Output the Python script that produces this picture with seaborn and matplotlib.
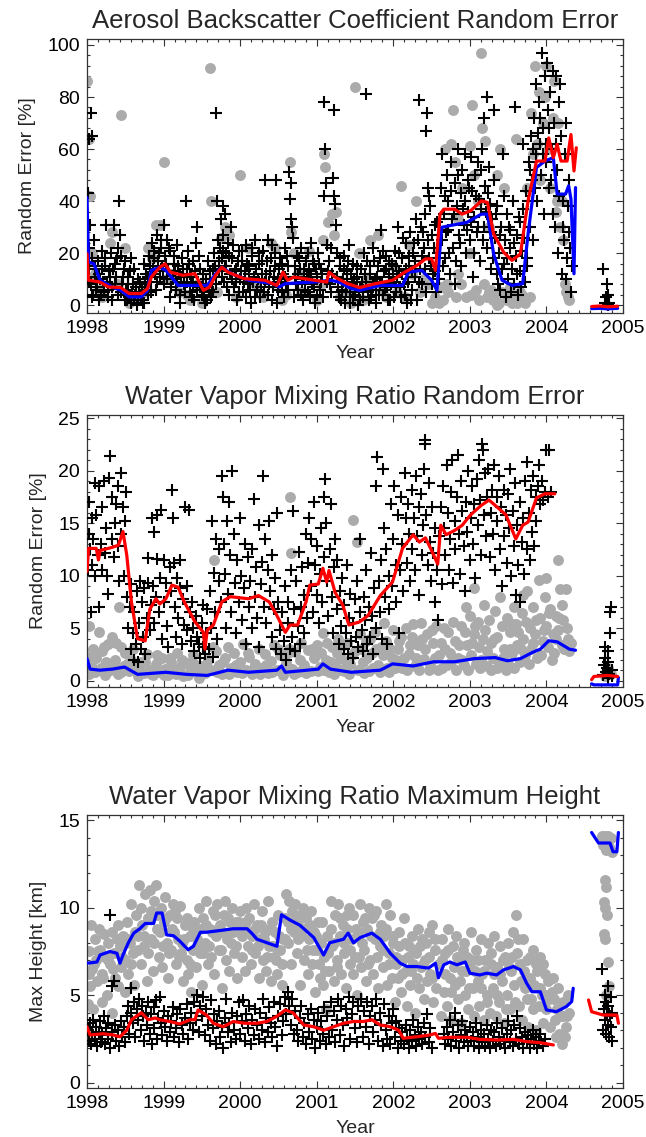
import numpy as np
import matplotlib
matplotlib.use("Agg")
import matplotlib.pyplot as plt
import seaborn as sns
from matplotlib.ticker import MultipleLocator, AutoMinorLocator

# ---------------- data ----------------
years = [1998, 1999, 2000, 2001, 2002, 2003, 2004, 2005]

# Panel 1: aerosol backscatter coefficient random error [%]
aer_red_x = [1998.00, 1998.02, 1998.17, 1998.28, 1998.44, 1998.55, 1998.71, 1998.79, 1998.84, 1998.95,
             1999.02, 1999.09, 1999.25, 1999.41, 1999.52, 1999.60, 1999.68, 1999.76, 1999.84, 2000.05,
             2000.32, 2000.48, 2000.56, 2000.62, 2000.70, 2000.97, 2001.13, 2001.16, 2001.24, 2001.40,
             2001.56, 2001.77, 2001.99, 2002.15, 2002.31, 2002.42, 2002.50, 2002.55, 2002.61, 2002.66,
             2002.80, 2002.90, 2003.01, 2003.15, 2003.23, 2003.31, 2003.44, 2003.55, 2003.66, 2003.76,
             2003.87, 2003.98, 2004.03, 2004.09, 2004.14, 2004.19, 2004.27, 2004.32, 2004.36, 2004.39]
aer_red_y = [19.7, 9.6, 8.9, 7.0, 6.8, 4.5, 4.5, 6.4, 10.8, 14.6,
             15.9, 12.7, 11.5, 12.1, 5.7, 7.0, 11.5, 14.6, 12.7, 10.2,
             9.6, 7.6, 12.7, 9.6, 10.8, 9.6, 8.9, 12.7, 10.8, 8.3,
             6.8, 8.3, 9.6, 12.7, 15.3, 17.8, 17.8, 13.4, 35.0, 36.9,
             36.9, 35.0, 36.3, 40.1, 39.5, 27.4, 20.4, 17.2, 19.7, 40.1,
             55.4, 55.4, 64.3, 56.7, 61.8, 55.4, 55.4, 65.6, 51.6, 60.5]
aer_blue_x = [1998.00, 1998.02, 1998.09, 1998.17, 1998.33, 1998.44, 1998.55, 1998.71, 1998.79, 1998.84,
              1998.95, 1999.03, 1999.19, 1999.41, 1999.57, 1999.68, 1999.76, 1999.89, 2000.11, 2000.43,
              2000.51, 2000.59, 2000.97, 2001.18, 2001.29, 2001.45, 2001.56, 2001.83, 2002.12, 2002.20,
              2002.37, 2002.50, 2002.57, 2002.63, 2002.74, 2002.96, 2003.15, 2003.23, 2003.31, 2003.42,
              2003.55, 2003.69, 2003.76, 2003.87, 2003.98, 2004.09, 2004.14, 2004.25, 2004.29, 2004.32,
              2004.36, 2004.38]
aer_blue_y = [41.4, 16.6, 15.9, 9.6, 7.0, 5.7, 3.2, 3.2, 5.7, 13.4,
              14.6, 13.4, 7.6, 7.6, 7.6, 12.1, 14.6, 12.1, 9.6, 8.3,
              7.0, 8.3, 8.9, 9.6, 8.9, 6.4, 5.7, 7.6, 7.6, 12.7,
              13.4, 9.6, 5.7, 29.9, 30.6, 31.8, 35.0, 35.0, 19.7, 9.6,
              7.6, 8.3, 27.4, 52.9, 55.4, 56.7, 42.7, 42.7, 45.9, 40.8,
              12.1, 45.2]
aer_red_tail_x = [2004.59, 2004.70, 2004.80, 2004.93]
aer_red_tail_y = [-0.5, -0.3, -0.6, -0.4]
aer_blue_tail_x = [2004.59, 2004.70, 2004.80, 2004.93]
aer_blue_tail_y = [-1.3, -1.2, -1.4, -1.2]

aer_cross = [
    (1998.01, 43), (1998.03, 64), (1998.05, 74), (1998.06, 65), (1998.04, 31), (1998.02, 22), (1998.03, 14),
    (1998.05, 8), (1998.07, 18), (1998.08, 4), (1998.10, 11), (1998.09, 25), (1998.12, 6), (1998.14, 17),
    (1998.15, 2), (1998.17, 10), (1998.19, 21), (1998.20, 14), (1998.22, 5), (1998.24, 18), (1998.25, 31),
    (1998.26, 9), (1998.28, 3), (1998.29, 13), (1998.31, 20), (1998.33, 7), (1998.35, 31), (1998.36, 16),
    (1998.38, 11), (1998.40, 4), (1998.41, 22), (1998.42, 40), (1998.43, 27), (1998.44, 19), (1998.46, 8),
    (1998.48, 14), (1998.49, 2), (1998.51, 6), (1998.53, 11), (1998.55, 3), (1998.57, 18), (1998.58, 1),
    (1998.60, 8), (1998.62, 14), (1998.63, 4), (1998.65, 0), (1998.67, 10), (1998.68, 5), (1998.70, 2),
    (1998.72, 7), (1998.74, 16), (1998.75, 1), (1998.77, 12), (1998.79, 4), (1998.81, 19), (1998.83, 9),
    (1998.85, 24), (1998.86, 14), (1998.88, 21), (1998.90, 6), (1998.91, 27), (1998.93, 17), (1998.95, 11),
    (1998.96, 22), (1998.98, 15), (1999.00, 31), (1999.01, 8), (1999.02, 19), (1999.04, 25), (1999.06, 13),
    (1999.08, 3), (1999.09, 21), (1999.12, 10), (1999.14, 16), (1999.16, 6), (1999.18, 23), (1999.20, 12),
    (1999.22, 1), (1999.24, 18), (1999.27, 8), (1999.29, 40), (1999.30, 14), (1999.32, 21), (1999.34, 5),
    (1999.36, 11), (1999.38, 17), (1999.40, 2), (1999.42, 24), (1999.44, 30), (1999.45, 9), (1999.47, 14),
    (1999.50, 4), (1999.52, 12), (1999.54, 1), (1999.56, 7), (1999.58, 17), (1999.60, 10), (1999.62, 3),
    (1999.64, 14), (1999.66, 20), (1999.68, 8), (1999.69, 74), (1999.70, 40), (1999.71, 25), (1999.72, 13),
    (1999.74, 22), (1999.75, 33), (1999.76, 18), (1999.77, 38), (1999.78, 27), (1999.79, 9), (1999.80, 35),
    (1999.81, 20), (1999.82, 15), (1999.84, 24), (1999.85, 4), (1999.87, 12), (1999.88, 30), (1999.90, 18),
    (1999.92, 7), (1999.94, 14), (1999.96, 2), (1999.98, 21), (2000.00, 10), (2000.02, 17), (2000.04, 5),
    (2000.06, 13), (2000.08, 23), (2000.10, 8), (2000.12, 15), (2000.14, 1), (2000.16, 19), (2000.18, 11),
    (2000.20, 25), (2000.22, 6), (2000.24, 16), (2000.26, 3), (2000.28, 12), (2000.30, 21), (2000.32, 48),
    (2000.33, 9), (2000.35, 17), (2000.37, 4), (2000.39, 13), (2000.41, 23), (2000.43, 7), (2000.45, 15),
    (2000.47, 48), (2000.48, 1), (2000.50, 10), (2000.52, 18), (2000.54, 5), (2000.56, 12), (2000.58, 22),
    (2000.60, 8), (2000.62, 15), (2000.64, 51), (2000.65, 41), (2000.66, 47), (2000.67, 33), (2000.68, 30),
    (2000.69, 26), (2000.70, 3), (2000.72, 11), (2000.74, 19), (2000.76, 6), (2000.78, 14), (2000.80, 22),
    (2000.82, 2), (2000.84, 10), (2000.86, 17), (2000.88, 5), (2000.90, 13), (2000.92, 24), (2000.94, 8),
    (2000.96, 16), (2000.98, 1), (2001.00, 11), (2001.02, 20), (2001.04, 6), (2001.06, 14), (2001.08, 3),
    (2001.09, 42), (2001.10, 78), (2001.11, 60), (2001.12, 47), (2001.13, 23), (2001.14, 9), (2001.16, 17),
    (2001.18, 5), (2001.20, 12), (2001.21, 49), (2001.22, 42), (2001.23, 75), (2001.24, 39), (2001.25, 31),
    (2001.26, 20), (2001.28, 7), (2001.30, 15), (2001.32, 2), (2001.34, 10), (2001.36, 19), (2001.38, 5),
    (2001.40, 13), (2001.42, 23), (2001.44, 1), (2001.46, 8), (2001.48, 16), (2001.50, 4), (2001.52, 11),
    (2001.54, 0), (2001.56, 7), (2001.58, 14), (2001.60, 3), (2001.62, 20), (2001.64, 81), (2001.65, 9),
    (2001.66, 17), (2001.68, 2), (2001.70, 12), (2001.72, 6), (2001.74, 22), (2001.76, 10), (2001.78, 1),
    (2001.80, 15), (2001.82, 8), (2001.84, 29), (2001.86, 4), (2001.88, 13), (2001.90, 19), (2001.92, 7),
    (2001.94, 11), (2001.96, 2), (2001.98, 16), (2002.00, 9), (2002.02, 21), (2002.04, 5), (2002.06, 30),
    (2002.08, 13), (2002.10, 3), (2002.12, 18), (2002.14, 8), (2002.16, 24), (2002.18, 1), (2002.20, 15),
    (2002.22, 28), (2002.24, 6), (2002.26, 20), (2002.28, 11), (2002.30, 33), (2002.31, 2), (2002.32, 25),
    (2002.34, 79), (2002.35, 14), (2002.36, 30), (2002.38, 8), (2002.40, 22), (2002.42, 35), (2002.43, 67),
    (2002.44, 74), (2002.45, 45), (2002.46, 18), (2002.47, 42), (2002.48, 38), (2002.50, 27), (2002.52, 12),
    (2002.54, 31), (2002.56, 5), (2002.58, 20), (2002.60, 10), (2002.62, 45), (2002.63, 25), (2002.64, 58),
    (2002.66, 35), (2002.68, 18), (2002.70, 50), (2002.71, 29), (2002.72, 40), (2002.74, 12), (2002.75, 55),
    (2002.77, 33), (2002.78, 22), (2002.80, 47), (2002.81, 8), (2002.83, 38), (2002.84, 60), (2002.86, 27),
    (2002.88, 43), (2002.89, 15), (2002.90, 52), (2002.92, 31), (2002.94, 40), (2002.95, 20), (2002.97, 48),
    (2002.98, 36), (2003.00, 25), (2003.01, 57), (2003.03, 44), (2003.04, 11), (2003.06, 34), (2003.07, 50),
    (2003.09, 28), (2003.10, 55), (2003.12, 41), (2003.13, 17), (2003.15, 37), (2003.16, 60), (2003.18, 72),
    (2003.19, 30), (2003.20, 46), (2003.22, 80), (2003.23, 22), (2003.25, 53), (2003.26, 39), (2003.28, 14),
    (2003.29, 33), (2003.31, 48), (2003.32, 75), (2003.33, 26), (2003.35, 12), (2003.36, 38), (2003.38, 20),
    (2003.40, 6), (2003.41, 30), (2003.43, 58), (2003.44, 16), (2003.46, 25), (2003.47, 3), (2003.49, 35),
    (2003.50, 10), (2003.52, 22), (2003.53, 29), (2003.55, 14), (2003.56, 40), (2003.58, 8), (2003.59, 76),
    (2003.60, 19), (2003.62, 27), (2003.63, 4), (2003.65, 32), (2003.66, 13), (2003.68, 21), (2003.69, 62),
    (2003.70, 37), (2003.72, 9), (2003.73, 44), (2003.75, 18), (2003.77, 55), (2003.78, 30), (2003.80, 65),
    (2003.81, 48), (2003.83, 25), (2003.84, 72), (2003.86, 58), (2003.87, 85), (2003.88, 40), (2003.90, 78),
    (2003.91, 62), (2003.93, 50), (2003.94, 97), (2003.95, 68), (2003.97, 35), (2003.98, 88), (2004.00, 55),
    (2004.01, 93), (2004.02, 75), (2004.04, 45), (2004.05, 82), (2004.07, 60), (2004.08, 90), (2004.10, 70),
    (2004.11, 30), (2004.13, 88), (2004.14, 52), (2004.15, 20), (2004.16, 78), (2004.18, 85), (2004.19, 65),
    (2004.20, 12), (2004.21, 40), (2004.23, 25), (2004.24, 58), (2004.26, 10), (2004.27, 18), (2004.29, 48),
    (2004.30, 28), (2004.32, 5), (2004.33, 15),
    (2004.74, 14), (2004.76, 1), (2004.78, 3), (2004.79, 8), (2004.80, 0), (2004.81, 4), (2004.82, 1),
]
aer_cross_dense = [
    (1998.03, 9), (1998.07, 3), (1998.11, 15), (1998.13, 7), (1998.16, 12), (1998.18, 4), (1998.21, 9),
    (1998.23, 15), (1998.27, 6), (1998.30, 11), (1998.32, 2), (1998.34, 14), (1998.37, 8), (1998.39, 18),
    (1998.45, 5), (1998.47, 11), (1998.50, 17), (1998.52, 2), (1998.54, 8), (1998.56, 13), (1998.59, 5),
    (1998.61, 3), (1998.64, 7), (1998.66, 2), (1998.69, 9), (1998.71, 4), (1998.73, 1), (1998.76, 8),
    (1998.78, 6), (1998.80, 11), (1998.82, 15), (1998.84, 5), (1998.87, 18), (1998.89, 12), (1998.92, 9),
    (1998.94, 20), (1998.97, 25), (1998.99, 13), (1999.03, 16), (1999.05, 10), (1999.07, 22), (1999.10, 7),
    (1999.13, 19), (1999.15, 13), (1999.17, 9), (1999.19, 15), (1999.21, 4), (1999.23, 11), (1999.26, 14),
    (1999.28, 5), (1999.31, 9), (1999.33, 16), (1999.35, 12), (1999.37, 3), (1999.39, 8), (1999.41, 13),
    (1999.43, 6), (1999.46, 19), (1999.48, 7), (1999.51, 8), (1999.53, 3), (1999.55, 10), (1999.57, 2),
    (1999.59, 6), (1999.61, 13), (1999.63, 8), (1999.65, 5), (1999.67, 15), (1999.73, 17), (1999.76, 11),
    (1999.78, 21), (1999.80, 15), (1999.83, 7), (1999.86, 19), (1999.89, 10), (1999.91, 23), (1999.93, 13),
    (1999.95, 9), (1999.97, 17), (1999.99, 5), (2000.01, 13), (2000.03, 21), (2000.05, 9), (2000.07, 3),
    (2000.09, 16), (2000.11, 12), (2000.13, 6), (2000.15, 22), (2000.17, 9), (2000.19, 3), (2000.21, 14),
    (2000.23, 10), (2000.25, 20), (2000.27, 7), (2000.29, 17), (2000.31, 5), (2000.34, 12), (2000.36, 25),
    (2000.38, 8), (2000.40, 18), (2000.42, 2), (2000.44, 11), (2000.46, 20), (2000.49, 6), (2000.51, 14),
    (2000.53, 9), (2000.55, 16), (2000.57, 3), (2000.59, 11), (2000.61, 19), (2000.63, 6), (2000.71, 15),
    (2000.73, 8), (2000.75, 12), (2000.77, 18), (2000.79, 4), (2000.81, 9), (2000.83, 14), (2000.85, 6),
    (2000.87, 11), (2000.89, 20), (2000.91, 3), (2000.93, 12), (2000.95, 17), (2000.97, 7), (2000.99, 14),
    (2001.01, 4), (2001.03, 16), (2001.05, 9), (2001.07, 12), (2001.15, 13), (2001.17, 8), (2001.19, 22),
    (2001.27, 11), (2001.29, 3), (2001.31, 18), (2001.33, 6), (2001.35, 14), (2001.37, 1), (2001.39, 9),
    (2001.41, 17), (2001.43, 5), (2001.45, 12), (2001.47, 3), (2001.49, 10), (2001.51, 7), (2001.53, 15),
    (2001.55, 5), (2001.57, 2), (2001.59, 9), (2001.61, 6), (2001.63, 12), (2001.67, 5), (2001.69, 15),
    (2001.71, 3), (2001.73, 9), (2001.75, 17), (2001.77, 6), (2001.79, 11), (2001.81, 4), (2001.83, 18),
    (2001.85, 9), (2001.87, 21), (2001.89, 6), (2001.91, 14), (2001.93, 2), (2001.95, 17), (2001.97, 8),
    (2001.99, 12), (2002.01, 3), (2002.03, 15), (2002.05, 11), (2002.07, 20), (2002.09, 7), (2002.11, 12),
    (2002.13, 26), (2002.15, 4), (2002.17, 14), (2002.19, 9), (2002.21, 19), (2002.23, 2), (2002.25, 13),
    (2002.27, 24), (2002.29, 17), (2002.33, 9), (2002.37, 19), (2002.39, 28), (2002.41, 14), (2002.43, 5),
    (2002.45, 25), (2002.49, 15), (2002.51, 8), (2002.53, 22), (2002.55, 13), (2002.57, 32),
    (2002.61, 33), (2002.65, 15), (2002.67, 42), (2002.69, 28), (2002.73, 20), (2002.76, 44), (2002.79, 35),
    (2002.82, 17), (2002.85, 50), (2002.87, 24), (2002.91, 37), (2002.93, 58), (2002.96, 29), (2002.99, 45),
    (2003.02, 32), (2003.05, 20), (2003.08, 42), (2003.11, 30), (2003.14, 52), (2003.17, 25), (2003.21, 36),
    (2003.24, 43), (2003.27, 28), (2003.30, 18), (2003.34, 35), (2003.37, 8), (2003.39, 27), (2003.42, 14),
    (2003.45, 42), (2003.48, 18), (2003.51, 30), (2003.54, 5), (2003.57, 24), (2003.61, 12), (2003.64, 34),
    (2003.67, 7), (2003.71, 26), (2003.74, 15), (2003.76, 40), (2003.79, 52), (2003.82, 60), (2003.85, 45),
    (2003.89, 66), (2003.92, 72), (2003.96, 58), (2003.99, 62), (2004.03, 68), (2004.06, 48), (2004.09, 35),
    (2004.12, 62), (2004.17, 42), (2004.22, 30), (2004.25, 70), (2004.28, 38), (2004.31, 22),
]
aer_dot = [
    (1998.00, 86), (1998.02, 64), (1998.04, 42), (1998.06, 20), (1998.10, 12), (1998.20, 3), (1998.30, 24),
    (1998.33, 28), (1998.45, 73), (1998.50, 22), (1998.55, 1), (1998.65, 2), (1998.75, 5), (1998.80, 22),
    (1998.90, 31), (1998.95, 31), (1999.00, 55), (1999.05, 10), (1999.20, 5), (1999.35, 2), (1999.50, 1),
    (1999.60, 91), (1999.62, 40), (1999.75, 26), (1999.80, 30), (1999.85, 27), (1999.95, 3), (2000.00, 50),
    (2000.10, 22), (2000.30, 3), (2000.40, 24), (2000.45, 22), (2000.55, 2), (2000.65, 55), (2000.66, 28),
    (2000.70, 20), (2000.80, 5), (2000.90, 21), (2001.00, 2), (2001.08, 25), (2001.10, 58), (2001.11, 53),
    (2001.15, 32), (2001.20, 35), (2001.22, 27), (2001.25, 36), (2001.30, 3), (2001.45, 1), (2001.50, 84),
    (2001.55, 20), (2001.60, 2), (2001.70, 25), (2001.80, 27), (2001.90, 3), (2002.05, 5), (2002.10, 46),
    (2002.20, 23), (2002.30, 40), (2002.40, 10), (2002.50, 1), (2002.55, 3), (2002.62, 7), (2002.70, 8),
    (2002.75, 62), (2002.78, 75), (2002.80, 55), (2002.85, 12), (2002.90, 45), (2002.95, 3), (2003.00, 61),
    (2003.03, 77), (2003.05, 50), (2003.10, 40), (2003.15, 97), (2003.16, 68), (2003.20, 63), (2003.25, 5),
    (2003.30, 2), (2003.35, 0), (2003.40, 60), (2003.45, 45), (2003.50, 3), (2003.55, 1), (2003.60, 64),
    (2003.65, 5), (2003.70, 2), (2003.75, 45), (2003.80, 74), (2003.85, 92), (2003.90, 82), (2003.95, 70),
    (2004.00, 92), (2004.02, 60), (2004.05, 45), (2004.10, 86), (2004.12, 36), (2004.15, 70), (2004.18, 30),
    (2004.20, 40), (2004.25, 5), (2004.28, 3), (2004.30, 2),
    (2002.65, 2), (2002.72, 5), (2002.82, 3), (2002.88, 8), (2003.02, 4), (2003.08, 6), (2003.12, 2),
    (2003.18, 8), (2003.22, 3), (2003.28, 6), (2003.32, 4), (2003.38, 1), (2003.42, 5), (2003.48, 2),
    (2003.52, 7), (2003.58, 3), (2003.62, 1), (2003.68, 4), (2003.72, 1), (2003.78, 3), (2003.82, 58),
    (2003.88, 62), (2003.92, 48), (2003.98, 80), (2004.08, 72), (2004.14, 40), (2004.22, 25), (2004.24, 8),
    (2002.60, 1), (2002.68, 60), (2002.85, 33), (2003.00, 20), (2003.25, 30), (2003.35, 50), (1998.15, 6),
    (1998.40, 8), (1998.60, 3), (1998.85, 18), (1999.10, 12), (1999.30, 4), (1999.45, 8), (1999.70, 5),
    (2000.20, 8), (2000.60, 4), (2000.75, 12), (2001.05, 8), (2001.40, 5), (2001.65, 10), (2001.85, 6),
    (2002.00, 15), (2002.15, 3), (2002.25, 12), (2002.35, 5), (2002.45, 8),
]

# Panel 2: water vapor mixing ratio random error [%]
wv_red_x = [1998.00, 1998.02, 1998.12, 1998.15, 1998.17, 1998.33, 1998.41, 1998.47, 1998.52, 1998.58,
            1998.66, 1998.76, 1998.82, 1998.90, 1998.95, 1999.03, 1999.11, 1999.19, 1999.27, 1999.41,
            1999.52, 1999.54, 1999.57, 1999.65, 1999.76, 1999.87, 2000.11, 2000.24, 2000.38, 2000.48,
            2000.59, 2000.65, 2000.75, 2000.86, 2000.91, 2001.02, 2001.08, 2001.13, 2001.16, 2001.24,
            2001.34, 2001.42, 2001.56, 2001.67, 2001.83, 2001.99, 2002.12, 2002.26, 2002.34, 2002.42,
            2002.50, 2002.58, 2002.62, 2002.69, 2002.80, 2002.90, 2003.01, 2003.15, 2003.25, 2003.33,
            2003.47, 2003.60, 2003.69, 2003.76, 2003.87, 2003.98, 2004.11]
wv_red_y = [10.4, 12.6, 12.6, 11.5, 12.4, 12.7, 12.9, 14.2, 11.9, 7.5,
            4.0, 3.8, 6.8, 7.8, 7.3, 7.8, 9.1, 8.9, 7.5, 5.6,
            4.6, 3.0, 4.8, 5.3, 7.5, 8.0, 7.8, 8.1, 7.5, 6.2,
            4.6, 5.3, 5.3, 7.5, 9.1, 9.2, 10.7, 9.4, 10.5, 8.4,
            7.2, 5.3, 5.6, 6.2, 8.1, 9.4, 12.6, 13.9, 13.2, 13.6,
            12.4, 11.1, 14.8, 13.9, 14.3, 14.8, 15.8, 16.7, 17.2, 16.7,
            15.8, 13.5, 14.8, 15.1, 17.4, 17.8, 17.8]
wv_blue_x = [1998.00, 1998.04, 1998.17, 1998.33, 1998.49, 1998.66, 1999.03, 1999.30, 1999.57, 1999.84,
             2000.11, 2000.48, 2000.54, 2000.59, 2001.02, 2001.08, 2001.18, 2001.45, 2001.83, 2001.99,
             2002.26, 2002.53, 2002.63, 2002.80, 2003.06, 2003.33, 2003.49, 2003.66, 2003.82, 2003.92,
             2004.03, 2004.14, 2004.30, 2004.38]
wv_blue_y = [2.1, 1.1, 1.0, 1.1, 1.3, 0.6, 0.8, 0.6, 0.5, 1.0,
             0.8, 1.0, 1.4, 0.8, 1.1, 1.6, 1.1, 0.8, 1.0, 1.6,
             1.4, 1.8, 1.8, 1.8, 2.1, 2.2, 1.9, 2.1, 2.7, 3.0,
             3.8, 3.7, 3.0, 2.9]
wv_red_tail_x = [2004.59, 2004.62, 2004.80, 2004.93]
wv_red_tail_y = [0.1, 0.4, 0.5, 0.4]
wv_blue_tail_x = [2004.59, 2004.62, 2004.90, 2004.93, 2004.94]
wv_blue_tail_y = [-0.3, -0.4, -0.4, -0.4, 0.3]

wv_cross = [
    (1998.01, 10.5), (1998.02, 14), (1998.03, 17), (1998.04, 12.5), (1998.05, 6.5), (1998.06, 15.5),
    (1998.07, 11), (1998.08, 13.5), (1998.10, 18.8), (1998.11, 10), (1998.12, 15.8), (1998.14, 12),
    (1998.15, 7), (1998.16, 18.5), (1998.18, 13), (1998.19, 10.5), (1998.20, 16.5), (1998.22, 19),
    (1998.23, 12.2), (1998.25, 14.5), (1998.26, 10), (1998.28, 8.3), (1998.29, 19.3), (1998.30, 21.4),
    (1998.32, 13.5), (1998.33, 17.5), (1998.35, 11.8), (1998.36, 15), (1998.38, 16.8), (1998.40, 12.8),
    (1998.41, 18.5), (1998.42, 9.5), (1998.44, 19.8), (1998.45, 14), (1998.47, 16.5), (1998.48, 10),
    (1998.50, 15.2), (1998.51, 18), (1998.52, 8), (1998.54, 5), (1998.56, 7), (1998.57, 3), (1998.58, 9.2),
    (1998.60, 4.5), (1998.61, 2), (1998.62, 6.5), (1998.64, 3.5), (1998.65, 8.5), (1998.66, 1.8),
    (1998.68, 5.5), (1998.69, 9.5), (1998.70, 3), (1998.72, 7.5), (1998.73, 4.2), (1998.75, 8.8),
    (1998.76, 2.5), (1998.78, 6), (1998.79, 9.3), (1998.80, 11.7), (1998.82, 4.8), (1998.83, 7.2),
    (1998.85, 15.5), (1998.86, 9), (1998.87, 5.5), (1998.88, 14.2), (1998.90, 8), (1998.91, 11.6),
    (1998.92, 15.8), (1998.94, 6.5), (1998.95, 9.8), (1998.97, 16.3), (1998.98, 4), (1999.00, 11.5),
    (1999.01, 7.5), (1999.03, 9.3), (1999.05, 5.2), (1999.06, 3.2), (1999.08, 10.8), (1999.10, 8.5),
    (1999.11, 18.2), (1999.12, 15.5), (1999.14, 11.2), (1999.15, 7), (1999.16, 4.2), (1999.18, 9.8),
    (1999.19, 6), (1999.21, 8.8), (1999.22, 11.5), (1999.24, 3.5), (1999.25, 7.8), (1999.27, 5.3),
    (1999.28, 16.5), (1999.30, 9), (1999.31, 4.8), (1999.33, 16.3), (1999.34, 6.5), (1999.36, 3.8),
    (1999.37, 7.5), (1999.39, 5), (1999.40, 2.8), (1999.42, 6.2), (1999.44, 4.2), (1999.46, 3.5),
    (1999.48, 2.2), (1999.50, 5.5), (1999.51, 3.2), (1999.52, 7.2), (1999.54, 2.5), (1999.56, 4.5),
    (1999.57, 6.8), (1999.59, 3), (1999.60, 8.5), (1999.62, 5), (1999.63, 15.2), (1999.64, 2.3),
    (1999.66, 10.3), (1999.67, 6.5), (1999.69, 13.5), (1999.70, 4), (1999.72, 9.5), (1999.73, 12.5),
    (1999.75, 7.5), (1999.76, 19.5), (1999.78, 17.5), (1999.79, 13), (1999.80, 10.2), (1999.82, 5),
    (1999.83, 15.2), (1999.84, 8.3), (1999.86, 17), (1999.87, 12), (1999.88, 6.5), (1999.90, 20),
    (1999.92, 14), (1999.93, 9.3), (1999.95, 4.5), (1999.96, 11.5), (1999.98, 7.5), (2000.00, 15.5),
    (2000.01, 10), (2000.03, 5.8), (2000.05, 8.8), (2000.06, 13), (2000.08, 3.5), (2000.10, 11.8),
    (2000.11, 7), (2000.13, 9.5), (2000.15, 5), (2000.16, 12.5), (2000.18, 17.3), (2000.19, 8),
    (2000.21, 10.8), (2000.22, 6), (2000.24, 14.8), (2000.25, 3.2), (2000.27, 9.2), (2000.28, 11.3),
    (2000.30, 19.5), (2000.31, 7), (2000.33, 13.5), (2000.34, 5.5), (2000.36, 10.5), (2000.38, 15.2),
    (2000.39, 8.5), (2000.41, 4.2), (2000.42, 12), (2000.44, 6.8), (2000.45, 9.8), (2000.47, 3),
    (2000.48, 16), (2000.50, 7.5), (2000.52, 4.8), (2000.53, 2.5), (2000.55, 6.5), (2000.57, 3.8),
    (2000.58, 9), (2000.60, 2), (2000.62, 5.5), (2000.63, 7.5), (2000.65, 3), (2000.66, 10.5),
    (2000.68, 4.2), (2000.69, 16.2), (2000.70, 6.8), (2000.72, 2.8), (2000.73, 9.5), (2000.75, 5.2),
    (2000.77, 12.3), (2000.78, 3.5), (2000.80, 7), (2000.81, 10.8), (2000.83, 4.5), (2000.84, 8.2),
    (2000.86, 14), (2000.87, 6), (2000.89, 11.2), (2000.90, 15.5), (2000.92, 9), (2000.93, 13.5),
    (2000.95, 6.5), (2000.96, 17), (2000.98, 11), (2001.00, 8.2), (2001.01, 12.8), (2001.03, 5.5),
    (2001.04, 10.2), (2001.06, 14.5), (2001.07, 7.5), (2001.09, 11.8), (2001.10, 17.5), (2001.11, 19.2),
    (2001.12, 15), (2001.14, 9.5), (2001.15, 6.2), (2001.17, 12.5), (2001.18, 16.8), (2001.20, 8),
    (2001.21, 4.5), (2001.23, 10.8), (2001.24, 13.5), (2001.26, 6.8), (2001.27, 11.5), (2001.29, 3.5),
    (2001.30, 8.5), (2001.32, 5.2), (2001.33, 9.8), (2001.35, 3), (2001.36, 7.2), (2001.38, 4.5),
    (2001.39, 11), (2001.41, 2.5), (2001.42, 6), (2001.44, 8.3), (2001.45, 3.8), (2001.47, 5.5),
    (2001.48, 2.2), (2001.50, 7.8), (2001.51, 4.2), (2001.53, 9.5), (2001.54, 3.2), (2001.56, 6.5),
    (2001.57, 13.5), (2001.59, 4.8), (2001.60, 2.8), (2001.62, 8), (2001.63, 5.8), (2001.65, 10.5),
    (2001.66, 3.5), (2001.68, 7), (2001.69, 4.2), (2001.71, 12.2), (2001.72, 6.2), (2001.74, 2.5),
    (2001.75, 8.8), (2001.77, 5), (2001.78, 18.5), (2001.79, 21.3), (2001.81, 9.5), (2001.82, 6.5),
    (2001.84, 11.5), (2001.85, 4), (2001.86, 20.2), (2001.88, 14.5), (2001.89, 8), (2001.91, 12.5),
    (2001.92, 3.5), (2001.94, 10), (2001.95, 6.8), (2001.97, 16.8), (2001.98, 9), (2002.00, 13.5),
    (2002.01, 18.5), (2002.03, 7.5), (2002.04, 11), (2002.06, 15.8), (2002.07, 4.5), (2002.09, 10.5),
    (2002.10, 17.5), (2002.12, 13), (2002.13, 8.5), (2002.15, 19.8), (2002.16, 15.5), (2002.18, 11.2),
    (2002.19, 16.8), (2002.21, 14), (2002.22, 9.5), (2002.24, 18.2), (2002.25, 12.5), (2002.27, 15.5),
    (2002.28, 10.5), (2002.30, 19.5), (2002.31, 13.8), (2002.33, 16.5), (2002.34, 8.2), (2002.36, 17.8),
    (2002.37, 12), (2002.39, 14.8), (2002.40, 20.2), (2002.41, 22.5), (2002.42, 22.9), (2002.43, 15.8),
    (2002.45, 11), (2002.46, 18.8), (2002.48, 13.2), (2002.49, 9.5), (2002.51, 16.5), (2002.52, 12.2),
    (2002.54, 7.5), (2002.55, 14.5), (2002.57, 10.5), (2002.58, 5.8), (2002.60, 13.8), (2002.62, 16.5),
    (2002.63, 9.2), (2002.65, 18.5), (2002.66, 14.5), (2002.68, 12), (2002.70, 20.5), (2002.71, 16),
    (2002.73, 10.5), (2002.74, 13.5), (2002.76, 18), (2002.77, 21), (2002.78, 9.3), (2002.80, 15.2),
    (2002.81, 12.5), (2002.83, 17.5), (2002.84, 21.5), (2002.86, 14), (2002.87, 10.2), (2002.89, 19),
    (2002.90, 16.2), (2002.92, 12.8), (2002.93, 8.5), (2002.95, 17), (2002.96, 14.2), (2002.98, 20),
    (2003.00, 11.5), (2003.01, 15.5), (2003.03, 18.5), (2003.04, 13), (2003.06, 16.8), (2003.07, 9.8),
    (2003.09, 19.2), (2003.10, 14.8), (2003.12, 21), (2003.13, 17.2), (2003.15, 12), (2003.16, 22.5),
    (2003.17, 22.0), (2003.18, 15.8), (2003.20, 19.8), (2003.21, 13.8), (2003.23, 17.5), (2003.24, 20.2),
    (2003.26, 11.8), (2003.27, 16), (2003.29, 18.2), (2003.30, 14), (2003.32, 20.5), (2003.33, 10.5),
    (2003.35, 17.5), (2003.36, 15.2), (2003.38, 19.5), (2003.39, 12.5), (2003.41, 16.5), (2003.42, 9),
    (2003.44, 18.2), (2003.45, 13.8), (2003.47, 15.8), (2003.48, 11.2), (2003.50, 17.8), (2003.51, 14.5),
    (2003.53, 20.2), (2003.54, 10), (2003.56, 16.2), (2003.57, 12.8), (2003.59, 18.8), (2003.60, 8.2),
    (2003.62, 14.8), (2003.63, 11), (2003.65, 17), (2003.66, 7.5), (2003.68, 13.2), (2003.69, 15.5),
    (2003.71, 10.2), (2003.72, 19), (2003.74, 12.5), (2003.75, 20.8), (2003.77, 16), (2003.78, 11.5),
    (2003.80, 18.2), (2003.81, 14.2), (2003.83, 19.5), (2003.84, 12.8), (2003.86, 17.5), (2003.87, 15.2),
    (2003.89, 18.5), (2003.90, 20.5), (2003.92, 16.8), (2003.94, 19), (2003.96, 17.2), (2003.98, 18),
    (2004.00, 22.0), (2004.04, 22.0), (2004.02, 17.5), (2004.06, 18),
    (2004.74, 0.5), (2004.75, 1.5), (2004.76, 3.2), (2004.77, 2.2), (2004.78, 0.8), (2004.79, 1.2),
    (2004.80, 2.8), (2004.80, 0.3), (2004.81, 1.8), (2004.82, 0.6), (2004.83, 4.5), (2004.83, 6.5),
    (2004.84, 7.0), (2004.85, 1.0), (2004.86, 0.4),
]
wv_dot = [
    (1998.02, 5.2), (1998.05, 1.5), (1998.08, 3), (1998.10, 0.8), (1998.12, 2.2), (1998.15, 4.6),
    (1998.18, 1.2), (1998.20, 2.8), (1998.23, 0.5), (1998.25, 1.8), (1998.28, 3.5), (1998.30, 1),
    (1998.33, 4.2), (1998.36, 2), (1998.40, 0.6), (1998.42, 7.0), (1998.45, 3.2), (1998.48, 1.4),
    (1998.50, 2.6), (1998.55, 0.9), (1998.58, 2), (1998.62, 1.2), (1998.66, 0.4), (1998.70, 1.8),
    (1998.74, 0.7), (1998.78, 2.5), (1998.82, 1), (1998.86, 0.5), (1998.90, 1.6), (1998.94, 0.8),
    (1998.98, 2.2), (1999.02, 1.1), (1999.06, 0.5), (1999.10, 1.8), (1999.14, 0.9), (1999.18, 2.6),
    (1999.22, 1.3), (1999.26, 0.4), (1999.30, 1.7), (1999.34, 0.8), (1999.38, 2.4), (1999.42, 1.1),
    (1999.46, 0.3), (1999.50, 1.4), (1999.54, 0.7), (1999.58, 2.0), (1999.62, 1.0), (1999.66, 11.5),
    (1999.68, 2.8), (1999.72, 1.5), (1999.76, 0.6), (1999.80, 2.2), (1999.84, 3.2), (1999.88, 1.2),
    (1999.92, 2.6), (1999.96, 0.8), (2000.00, 1.8), (2000.04, 3.5), (2000.08, 1.0), (2000.12, 2.3),
    (2000.16, 0.6), (2000.20, 1.6), (2000.24, 3.0), (2000.28, 1.2), (2000.32, 2.5), (2000.36, 0.7),
    (2000.40, 1.9), (2000.44, 3.4), (2000.48, 1.0), (2000.52, 2.4), (2000.56, 0.5), (2000.60, 1.7),
    (2000.64, 3.0), (2000.65, 17.5), (2000.66, 12.2), (2000.68, 1.1), (2000.72, 2.7), (2000.76, 0.8),
    (2000.80, 3.6), (2000.84, 1.5), (2000.88, 2.9), (2000.92, 0.9), (2000.96, 2.2), (2001.00, 3.4),
    (2001.04, 1.3), (2001.08, 4.5), (2001.12, 2.0), (2001.16, 0.8), (2001.20, 3.2), (2001.24, 1.5),
    (2001.28, 4.0), (2001.32, 2.2), (2001.36, 0.9), (2001.40, 3.6), (2001.44, 1.6), (2001.48, 15.3),
    (2001.50, 2.8), (2001.52, 13.2), (2001.56, 4.4), (2001.60, 1.8), (2001.64, 3.8), (2001.68, 0.9),
    (2001.72, 2.6), (2001.76, 4.6), (2001.80, 1.5), (2001.84, 3.2), (2001.88, 5.5), (2001.92, 1.2),
    (2001.96, 3.0), (2002.00, 4.8), (2002.04, 2.0), (2002.08, 3.8), (2002.12, 1.2), (2002.16, 5.0),
    (2002.20, 2.5), (2002.24, 4.2), (2002.28, 1.4), (2002.32, 3.4), (2002.36, 5.5), (2002.40, 2.1),
    (2002.44, 4.4), (2002.48, 1.6), (2002.52, 3.6), (2002.56, 5.2), (2002.60, 2.4), (2002.64, 1.2),
    (2002.68, 3.0), (2002.72, 4.6), (2002.76, 1.8), (2002.80, 3.8), (2002.84, 2.2), (2002.88, 5.2),
    (2002.92, 1.5), (2002.96, 3.4), (2003.00, 6.2), (2003.02, 2.4), (2003.05, 4.4), (2003.08, 1.6),
    (2003.10, 5.6), (2003.12, 3.2), (2003.15, 2.0), (2003.18, 7.2), (2003.20, 4.8), (2003.22, 1.4),
    (2003.25, 5.8), (2003.28, 3.6), (2003.30, 2.2), (2003.33, 6.6), (2003.36, 4.2), (2003.38, 1.8),
    (2003.40, 8.0), (2003.42, 5.2), (2003.45, 3.0), (2003.48, 6.0), (2003.50, 1.6), (2003.52, 4.6),
    (2003.55, 2.6), (2003.58, 7.0), (2003.60, 5.4), (2003.62, 3.4), (2003.65, 1.8), (2003.68, 6.4),
    (2003.70, 4.0), (2003.72, 2.4), (2003.75, 8.5), (2003.78, 5.0), (2003.80, 3.0), (2003.82, 7.0),
    (2003.85, 4.4), (2003.88, 2.2), (2003.90, 9.6), (2003.92, 6.0), (2003.95, 3.8), (2003.98, 8.0),
    (2004.00, 5.2), (2004.02, 3.2), (2004.05, 6.8), (2004.08, 4.4), (2004.10, 2.6), (2004.12, 6.2),
    (2004.15, 11.5), (2004.15, 4.8), (2004.18, 8.7), (2004.20, 3.4), (2004.22, 5.8), (2004.25, 8.7),
    (2004.28, 4.0), (2004.30, 2.8), (2004.32, 3.6),
    (2004.76, 0.4), (2004.80, 1.2), (2004.84, 0.6),
]
wv_dot_dense = [
    (1998.03, 0.6), (1998.07, 2.4), (1998.14, 1.0), (1998.22, 3.2), (1998.27, 0.9), (1998.35, 1.5),
    (1998.38, 3.6), (1998.44, 0.8), (1998.52, 1.6), (1998.60, 3.0), (1998.68, 1.0), (1998.76, 1.8),
    (1998.84, 0.6), (1998.92, 2.4), (1999.00, 0.5), (1999.08, 2.2), (1999.16, 0.6), (1999.24, 2.0),
    (1999.32, 0.5), (1999.40, 1.6), (1999.48, 0.8), (1999.56, 1.2), (1999.64, 3.2), (1999.70, 0.8),
    (1999.78, 1.8), (1999.86, 0.6), (1999.94, 1.5), (2000.02, 0.7), (2000.10, 2.6), (2000.18, 1.2),
    (2000.26, 0.6), (2000.34, 1.5), (2000.42, 0.8), (2000.50, 3.0), (2000.58, 1.2), (2000.62, 2.6),
    (2000.70, 0.6), (2000.78, 2.0), (2000.86, 0.7), (2000.94, 3.0), (2001.02, 0.9), (2001.06, 2.6),
    (2001.10, 1.0), (2001.14, 3.6), (2001.18, 1.8), (2001.22, 0.6), (2001.26, 2.6), (2001.30, 1.0),
    (2001.34, 3.4), (2001.38, 1.8), (2001.42, 0.6), (2001.46, 2.4), (2001.54, 1.0), (2001.58, 3.0),
    (2001.62, 0.7), (2001.66, 2.2), (2001.70, 4.0), (2001.74, 1.2), (2001.78, 3.0), (2001.82, 0.8),
    (2001.86, 2.4), (2001.90, 3.8), (2001.94, 0.8), (2001.98, 2.2), (2002.02, 1.2), (2002.06, 3.0),
    (2002.10, 4.2), (2002.14, 2.2), (2002.18, 1.0), (2002.22, 3.4), (2002.26, 5.4), (2002.30, 2.2),
    (2002.34, 1.0), (2002.38, 4.0), (2002.42, 3.0), (2002.46, 1.0), (2002.50, 4.8), (2002.54, 2.2),
    (2002.58, 1.0), (2002.62, 3.6), (2002.66, 5.0), (2002.70, 1.5), (2002.74, 2.6), (2002.78, 5.6),
    (2002.82, 1.0), (2002.86, 3.4), (2002.90, 2.0), (2002.94, 4.6), (2002.98, 1.0), (2003.03, 3.6),
    (2003.07, 5.2), (2003.13, 1.2), (2003.17, 4.0), (2003.23, 2.8), (2003.27, 1.0), (2003.32, 4.0),
    (2003.35, 1.2), (2003.43, 2.2), (2003.47, 1.0), (2003.53, 3.0), (2003.57, 1.2), (2003.63, 4.6),
    (2003.67, 3.0), (2003.73, 5.6), (2003.77, 1.6), (2003.83, 3.6), (2003.87, 5.8), (2003.93, 2.4),
    (2003.97, 4.8), (2004.03, 6.4), (2004.07, 2.0), (2004.13, 4.0), (2004.17, 6.0), (2004.23, 3.0),
    (2004.27, 5.0), (2003.70, 8.2), (2003.55, 5.4), (2002.95, 7.0), (2003.05, 8.8), (2004.00, 9.8),
    (2004.20, 7.2),
]

# Panel 3: water vapor mixing ratio maximum height [km]
mh_blue_x = [1998.00, 1998.13, 1998.17, 1998.30, 1998.39, 1998.43, 1998.47, 1998.54, 1998.61, 1998.69,
             1998.76, 1998.87, 1998.91, 1998.98, 1999.04, 1999.13, 1999.21, 1999.32, 1999.39, 1999.48,
             1999.56, 1999.74, 1999.91, 2000.09, 2000.15, 2000.22, 2000.35, 2000.48, 2000.54, 2000.65,
             2000.78, 2000.96, 2001.09, 2001.17, 2001.35, 2001.41, 2001.48, 2001.57, 2001.72, 2001.83,
             2001.96, 2002.09, 2002.18, 2002.31, 2002.46, 2002.55, 2002.59, 2002.66, 2002.74, 2002.83,
             2002.94, 2003.00, 2003.13, 2003.22, 2003.35, 2003.44, 2003.57, 2003.66, 2003.74, 2003.81,
             2003.92, 2004.00, 2004.13, 2004.26, 2004.33, 2004.35]
mh_blue_y = [6.83, 6.9, 7.3, 7.5, 7.4, 6.83, 7.3, 8.0, 8.55, 8.8,
             9.1, 9.1, 9.7, 9.7, 8.45, 8.4, 8.1, 7.6, 7.8, 8.6,
             8.6, 8.7, 8.8, 8.8, 8.55, 8.2, 8.0, 7.8, 9.6, 9.3,
             9.0, 8.3, 7.3, 8.0, 8.2, 8.55, 8.0, 8.3, 8.55, 8.2,
             7.4, 6.83, 6.64, 6.64, 6.55, 6.83, 6.0, 6.74, 6.9, 6.74,
             6.9, 6.26, 6.16, 6.26, 6.16, 6.45, 6.64, 6.45, 5.7, 5.2,
             5.2, 4.16, 4.06, 4.35, 4.64, 5.4]
mh_red_x = [1998.00, 1998.04, 1998.21, 1998.34, 1998.43, 1998.52, 1998.58, 1998.71, 1998.80, 1998.89,
            1998.95, 1999.08, 1999.21, 1999.35, 1999.41, 1999.45, 1999.56, 1999.65, 1999.78, 1999.91,
            2000.06, 2000.22, 2000.35, 2000.48, 2000.59, 2000.69, 2000.83, 2000.96, 2001.09, 2001.22,
            2001.35, 2001.48, 2001.61, 2001.72, 2001.83, 2001.96, 2002.07, 2002.13, 2002.31, 2002.48,
            2002.55, 2002.59, 2002.74, 2002.96, 2003.13, 2003.35, 2003.57, 2003.74, 2003.92, 2004.09]
mh_red_y = [3.2, 2.73, 2.8, 2.73, 2.63, 3.0, 3.6, 4.0, 3.6, 3.7,
            3.6, 3.5, 3.36, 3.6, 3.6, 4.16, 3.87, 3.4, 3.2, 3.5,
            3.4, 3.4, 3.5, 3.8, 4.16, 4.0, 3.3, 3.2, 3.0, 3.2,
            3.4, 3.5, 3.5, 3.6, 3.3, 3.2, 3.0, 2.54, 2.63, 2.73,
            2.82, 2.54, 2.6, 2.6, 2.48, 2.44, 2.48, 2.35, 2.29, 2.16]
mh_blue_tail_x = [2004.59, 2004.68, 2004.83, 2004.87, 2004.92, 2004.94]
mh_blue_tail_y = [14.3, 13.7, 13.7, 13.2, 13.2, 14.3]
mh_red_tail_x = [2004.55, 2004.59, 2004.74, 2004.92, 2004.94]
mh_red_tail_y = [4.73, 4.06, 3.87, 3.87, 3.4]

mh_dot = [
    (1998.01, 4.5), (1998.02, 7.5), (1998.04, 5.5), (1998.05, 9.0), (1998.07, 6.5), (1998.08, 4.2),
    (1998.10, 8.2), (1998.12, 7.0), (1998.13, 5.8), (1998.15, 8.8), (1998.17, 7.6), (1998.19, 6.2),
    (1998.20, 4.6), (1998.22, 8.5), (1998.24, 7.2), (1998.26, 5.0), (1998.28, 8.0), (1998.30, 6.8),
    (1998.32, 8.6), (1998.33, 4.0), (1998.35, 7.4), (1998.37, 6.0), (1998.39, 8.2), (1998.41, 5.5),
    (1998.43, 7.8), (1998.45, 6.6), (1998.47, 8.4), (1998.49, 5.2), (1998.50, 7.0), (1998.52, 9.2),
    (1998.54, 6.2), (1998.56, 8.0), (1998.58, 10.2), (1998.60, 7.4), (1998.62, 5.6), (1998.64, 9.6),
    (1998.66, 8.4), (1998.68, 11.3), (1998.70, 6.8), (1998.72, 9.0), (1998.74, 7.8), (1998.76, 10.8),
    (1998.78, 5.8), (1998.80, 9.4), (1998.82, 11.0), (1998.84, 8.2), (1998.86, 6.4), (1998.88, 10.4),
    (1998.90, 11.3), (1998.92, 8.8), (1998.94, 7.2), (1998.96, 10.0), (1998.98, 6.6), (1999.00, 9.2),
    (1999.02, 10.6), (1999.04, 8.0), (1999.06, 6.0), (1999.08, 9.6), (1999.10, 7.6), (1999.12, 10.2),
    (1999.14, 8.6), (1999.16, 6.8), (1999.18, 9.4), (1999.20, 7.2), (1999.22, 10.1), (1999.24, 8.0),
    (1999.26, 5.8), (1999.28, 9.0), (1999.30, 7.0), (1999.32, 6.2), (1999.34, 8.4), (1999.36, 5.2),
    (1999.38, 7.6), (1999.40, 9.2), (1999.42, 6.6), (1999.44, 8.2), (1999.46, 10.0), (1999.48, 7.4),
    (1999.50, 5.6), (1999.52, 9.4), (1999.54, 8.0), (1999.56, 10.4), (1999.58, 6.8), (1999.60, 8.8),
    (1999.62, 7.2), (1999.64, 9.8), (1999.66, 6.2), (1999.68, 8.4), (1999.70, 10.2), (1999.72, 7.6),
    (1999.74, 9.0), (1999.76, 5.4), (1999.78, 8.6), (1999.80, 10.4), (1999.82, 7.0), (1999.84, 9.4),
    (1999.86, 6.4), (1999.88, 8.0), (1999.90, 10.0), (1999.92, 7.4), (1999.94, 9.2), (1999.96, 6.0),
    (1999.98, 8.6), (2000.00, 9.8), (2000.02, 7.2), (2000.04, 8.8), (2000.06, 6.4), (2000.08, 10.0),
    (2000.10, 7.8), (2000.12, 9.4), (2000.14, 6.8), (2000.16, 8.4), (2000.18, 10.2), (2000.20, 7.4),
    (2000.22, 9.0), (2000.24, 6.0), (2000.26, 8.2), (2000.28, 9.8), (2000.30, 7.0), (2000.32, 8.6),
    (2000.34, 6.4), (2000.36, 10.4), (2000.38, 7.8), (2000.40, 5.8), (2000.42, 9.2), (2000.44, 7.2),
    (2000.46, 8.6), (2000.48, 6.2), (2000.50, 9.6), (2000.52, 7.6), (2000.54, 5.6), (2000.56, 8.2),
    (2000.58, 9.4), (2000.60, 10.8), (2000.62, 8.0), (2000.64, 10.4), (2000.66, 6.8), (2000.68, 9.8),
    (2000.70, 8.6), (2000.72, 10.2), (2000.74, 7.4), (2000.76, 9.0), (2000.78, 5.6), (2000.80, 8.4),
    (2000.82, 10.0), (2000.84, 7.0), (2000.86, 9.4), (2000.88, 6.2), (2000.90, 8.2), (2000.92, 9.8),
    (2000.94, 6.8), (2000.96, 8.6), (2000.98, 5.2), (2001.00, 7.6), (2001.02, 9.2), (2001.04, 6.0),
    (2001.06, 8.0), (2001.08, 5.6), (2001.10, 7.2), (2001.12, 4.2), (2001.14, 8.4), (2001.16, 6.4),
    (2001.18, 10.4), (2001.20, 7.8), (2001.22, 5.8), (2001.24, 9.6), (2001.26, 7.0), (2001.28, 10.2),
    (2001.30, 8.4), (2001.32, 6.2), (2001.34, 9.0), (2001.36, 7.4), (2001.38, 5.4), (2001.40, 8.8),
    (2001.42, 10.0), (2001.44, 6.8), (2001.46, 8.2), (2001.48, 9.6), (2001.50, 7.2), (2001.52, 5.0),
    (2001.54, 8.6), (2001.56, 10.2), (2001.58, 6.6), (2001.60, 9.2), (2001.62, 7.6), (2001.64, 5.8),
    (2001.66, 8.8), (2001.68, 10.0), (2001.70, 7.0), (2001.72, 9.4), (2001.74, 6.2), (2001.76, 8.2),
    (2001.78, 9.8), (2001.80, 5.4), (2001.82, 7.8), (2001.84, 9.0), (2001.86, 6.6), (2001.88, 8.4),
    (2001.90, 10.2), (2001.92, 5.6), (2001.94, 7.4), (2001.96, 9.6), (2001.98, 6.0), (2002.00, 8.0),
    (2002.02, 4.6), (2002.04, 7.2), (2002.06, 6.0), (2002.08, 8.6), (2002.10, 5.2), (2002.12, 7.0),
    (2002.14, 9.4), (2002.16, 6.4), (2002.18, 4.4), (2002.20, 7.8), (2002.22, 5.6), (2002.24, 8.4),
    (2002.26, 6.8), (2002.28, 4.0), (2002.30, 7.4), (2002.32, 8.8), (2002.34, 5.4), (2002.36, 6.6),
    (2002.38, 8.2), (2002.40, 4.8), (2002.42, 7.0), (2002.44, 5.8), (2002.46, 8.6), (2002.48, 6.2),
    (2002.50, 9.0), (2002.52, 4.6), (2002.54, 7.6), (2002.56, 5.4), (2002.60, 6.8), (2002.62, 3.8),
    (2002.64, 8.2), (2002.66, 5.2), (2002.68, 7.4), (2002.70, 4.4), (2002.72, 8.8), (2002.74, 6.0),
    (2002.76, 3.6), (2002.78, 7.8), (2002.80, 5.6), (2002.82, 8.4), (2002.84, 4.8), (2002.86, 7.0),
    (2002.88, 3.4), (2002.90, 6.4), (2002.92, 8.0), (2002.94, 5.0), (2002.96, 7.2), (2002.98, 4.2),
    (2003.00, 6.6), (2003.02, 8.6), (2003.04, 5.4), (2003.06, 3.8), (2003.08, 7.6), (2003.10, 5.8),
    (2003.12, 4.4), (2003.14, 8.2), (2003.16, 6.2), (2003.18, 3.6), (2003.20, 7.0), (2003.22, 5.0),
    (2003.24, 8.0), (2003.26, 4.0), (2003.28, 6.8), (2003.30, 5.4), (2003.32, 8.4), (2003.34, 3.8),
    (2003.36, 6.6), (2003.38, 4.6), (2003.40, 7.8), (2003.42, 5.8), (2003.44, 3.4), (2003.46, 7.2),
    (2003.48, 5.0), (2003.50, 8.0), (2003.52, 4.2), (2003.54, 6.4), (2003.56, 8.6), (2003.58, 5.6),
    (2003.60, 9.6), (2003.62, 7.4), (2003.64, 4.4), (2003.66, 6.8), (2003.68, 3.6), (2003.70, 8.2),
    (2003.72, 5.4), (2003.74, 7.0), (2003.76, 3.2), (2003.78, 6.0), (2003.80, 4.8), (2003.82, 7.6),
    (2003.84, 5.6), (2003.86, 3.0), (2003.88, 6.4), (2003.90, 4.4), (2003.92, 7.2), (2003.94, 5.0),
    (2003.96, 3.4), (2003.98, 6.2), (2004.00, 4.2), (2004.02, 5.8), (2004.05, 3.2), (2004.08, 6.0),
    (2004.10, 4.8), (2004.12, 2.6), (2004.15, 5.4), (2004.18, 3.8), (2004.20, 2.2), (2004.22, 4.6),
    (2004.25, 3.2), (2004.28, 5.0), (2004.30, 4.0),
    (2004.72, 14.1), (2004.74, 13.6), (2004.76, 14.1), (2004.78, 13.3), (2004.80, 14.1), (2004.82, 13.5),
    (2004.84, 14.0), (2004.86, 13.2), (2004.76, 11.6), (2004.78, 11.2), (2004.75, 10.3), (2004.77, 10.0),
    (2004.79, 9.6), (2004.75, 8.5), (2004.77, 8.2), (2004.80, 6.9), (2004.82, 5.5), (2004.78, 5.0),
]
mh_dot_dense = [
    (1998.03, 6.2), (1998.09, 6.8), (1998.14, 7.5), (1998.21, 6.0), (1998.27, 7.0), (1998.34, 6.5),
    (1998.40, 9.0), (1998.46, 7.2), (1998.53, 8.2), (1998.57, 6.8), (1998.63, 8.6), (1998.67, 7.6),
    (1998.71, 10.0), (1998.75, 8.4), (1998.79, 7.4), (1998.83, 9.8), (1998.87, 8.0), (1998.91, 9.6),
    (1998.95, 8.6), (1998.99, 7.8), (1999.03, 9.4), (1999.07, 7.4), (1999.11, 8.8), (1999.15, 9.8),
    (1999.19, 8.2), (1999.23, 7.4), (1999.27, 8.2), (1999.31, 9.4), (1999.35, 6.8), (1999.39, 8.8),
    (1999.43, 7.8), (1999.47, 8.8), (1999.51, 7.4), (1999.55, 9.0), (1999.59, 7.8), (1999.63, 8.6),
    (1999.67, 9.6), (1999.71, 8.8), (1999.75, 7.6), (1999.79, 9.6), (1999.83, 8.2), (1999.87, 9.2),
    (1999.91, 8.6), (1999.95, 7.8), (1999.99, 9.2), (2000.03, 8.4), (2000.07, 9.2), (2000.11, 8.6),
    (2000.15, 7.6), (2000.19, 8.8), (2000.23, 7.8), (2000.27, 9.0), (2000.31, 8.2), (2000.35, 7.2),
    (2000.39, 8.8), (2000.43, 7.8), (2000.47, 7.0), (2000.51, 8.4), (2000.55, 6.8), (2000.59, 8.2),
    (2000.63, 9.2), (2000.67, 8.8), (2000.71, 9.4), (2000.75, 8.2), (2000.79, 9.6), (2000.83, 8.8),
    (2000.87, 7.6), (2000.91, 9.0), (2000.95, 7.6), (2000.99, 8.4), (2001.03, 6.8), (2001.07, 9.2),
    (2001.11, 6.4), (2001.15, 7.4), (2001.19, 8.8), (2001.23, 8.0), (2001.27, 6.6), (2001.31, 9.4),
    (2001.35, 8.0), (2001.39, 9.6), (2001.43, 7.6), (2001.47, 6.2), (2001.51, 8.8), (2001.55, 7.2),
    (2001.59, 8.0), (2001.63, 9.4), (2001.67, 6.8), (2001.71, 8.4), (2001.75, 9.6), (2001.79, 7.2),
    (2001.83, 8.6), (2001.87, 7.6), (2001.91, 8.8), (2001.95, 6.8), (2001.99, 8.4), (2002.03, 6.8),
    (2002.07, 7.8), (2002.11, 6.2), (2002.15, 8.0), (2002.19, 7.2), (2002.23, 6.4), (2002.27, 7.6),
    (2002.31, 6.0), (2002.35, 7.8), (2002.39, 6.8), (2002.43, 8.0), (2002.47, 7.2), (2002.51, 6.0),
    (2002.55, 8.2), (2002.63, 7.0), (2002.67, 6.2), (2002.71, 7.6), (2002.75, 5.2), (2002.79, 6.6),
    (2002.83, 7.2), (2002.87, 5.8), (2002.91, 7.6), (2002.95, 6.4), (2002.99, 5.4), (2003.03, 7.0),
    (2003.07, 6.4), (2003.11, 7.0), (2003.15, 5.4), (2003.19, 6.4), (2003.23, 4.6), (2003.27, 7.4),
    (2003.31, 6.2), (2003.35, 5.0), (2003.39, 6.2), (2003.43, 7.0), (2003.47, 4.2), (2003.51, 6.6),
    (2003.55, 7.2), (2003.59, 4.6), (2003.63, 8.2), (2003.67, 5.8), (2003.71, 6.4), (2003.75, 4.8),
    (2003.79, 7.2), (2003.83, 4.2), (2003.87, 6.8), (2003.91, 5.4), (2003.95, 6.8), (2003.99, 5.0),
    (2004.03, 4.8), (2004.07, 5.2), (2004.11, 3.6), (2004.14, 4.2), (2004.17, 2.8), (2004.21, 3.8),
    (2004.24, 2.6), (2004.27, 3.8),
]
mh_cross = [
    (1998.01, 3.0), (1998.02, 2.4), (1998.04, 3.4), (1998.05, 2.2), (1998.07, 2.8), (1998.08, 3.6),
    (1998.10, 2.5), (1998.12, 3.2), (1998.13, 2.1), (1998.15, 2.9), (1998.17, 3.5), (1998.18, 2.3),
    (1998.20, 2.7), (1998.22, 3.8), (1998.23, 2.2), (1998.25, 3.1), (1998.27, 2.5), (1998.28, 3.4),
    (1998.30, 9.6), (1998.30, 2.0), (1998.32, 2.9), (1998.33, 5.5), (1998.35, 5.8), (1998.36, 3.3),
    (1998.38, 2.4), (1998.40, 3.0), (1998.42, 2.1), (1998.44, 3.5), (1998.46, 2.6), (1998.48, 3.2),
    (1998.50, 2.3), (1998.52, 3.8), (1998.54, 4.4), (1998.55, 2.8), (1998.57, 4.0), (1998.58, 5.4),
    (1998.60, 3.4), (1998.62, 4.6), (1998.63, 2.6), (1998.65, 4.2), (1998.67, 3.6), (1998.68, 4.8),
    (1998.70, 3.0), (1998.72, 4.4), (1998.73, 3.8), (1998.75, 2.4), (1998.77, 4.0), (1998.78, 3.3),
    (1998.80, 4.6), (1998.82, 2.8), (1998.83, 3.9), (1998.85, 2.2), (1998.87, 4.3), (1998.88, 3.1),
    (1998.90, 4.7), (1998.92, 2.5), (1998.93, 3.7), (1998.95, 4.9), (1998.97, 3.4), (1998.98, 2.7),
    (1999.00, 4.1), (1999.02, 3.2), (1999.04, 2.4), (1999.06, 3.8), (1999.08, 2.9), (1999.10, 3.5),
    (1999.12, 4.3), (1999.14, 2.6), (1999.16, 3.1), (1999.18, 3.9), (1999.20, 2.3), (1999.22, 4.2),
    (1999.24, 3.3), (1999.26, 2.8), (1999.28, 3.7), (1999.30, 4.5), (1999.32, 2.5), (1999.34, 3.4),
    (1999.36, 4.0), (1999.38, 3.0), (1999.40, 4.6), (1999.42, 3.6), (1999.44, 5.0), (1999.46, 2.9),
    (1999.48, 4.4), (1999.50, 3.8), (1999.52, 4.9), (1999.54, 2.7), (1999.56, 4.2), (1999.58, 3.3),
    (1999.60, 2.4), (1999.62, 4.7), (1999.64, 3.1), (1999.66, 3.9), (1999.68, 2.2), (1999.70, 3.5),
    (1999.72, 4.1), (1999.74, 2.6), (1999.76, 3.2), (1999.78, 2.0), (1999.80, 3.7), (1999.82, 4.8),
    (1999.84, 2.9), (1999.86, 3.4), (1999.88, 2.3), (1999.90, 4.0), (1999.92, 3.0), (1999.94, 2.5),
    (1999.96, 3.8), (1999.98, 4.6), (2000.00, 2.8), (2000.02, 3.5), (2000.04, 4.7), (2000.06, 2.4),
    (2000.08, 3.9), (2000.10, 3.1), (2000.12, 4.4), (2000.14, 2.2), (2000.16, 3.6), (2000.18, 2.7),
    (2000.20, 4.2), (2000.22, 3.3), (2000.24, 2.5), (2000.26, 4.0), (2000.28, 3.0), (2000.30, 4.8),
    (2000.32, 2.3), (2000.34, 3.7), (2000.36, 2.9), (2000.38, 4.3), (2000.40, 3.4), (2000.42, 2.6),
    (2000.44, 4.6), (2000.46, 3.2), (2000.48, 2.1), (2000.50, 3.8), (2000.52, 4.5), (2000.54, 2.7),
    (2000.56, 3.5), (2000.58, 4.9), (2000.60, 3.9), (2000.62, 5.2), (2000.64, 4.4), (2000.66, 3.3),
    (2000.68, 4.8), (2000.70, 2.8), (2000.72, 4.1), (2000.74, 3.0), (2000.76, 2.4), (2000.78, 3.7),
    (2000.80, 4.4), (2000.82, 2.6), (2000.84, 3.4), (2000.86, 2.2), (2000.88, 3.9), (2000.90, 2.9),
    (2000.92, 4.2), (2000.94, 2.5), (2000.96, 3.6), (2000.98, 2.0), (2001.00, 3.2), (2001.02, 4.0),
    (2001.04, 2.4), (2001.06, 3.5), (2001.08, 2.8), (2001.10, 4.3), (2001.12, 2.2), (2001.14, 3.8),
    (2001.16, 2.6), (2001.18, 4.6), (2001.20, 3.0), (2001.22, 4.1), (2001.24, 2.3), (2001.26, 3.6),
    (2001.28, 4.8), (2001.30, 2.7), (2001.32, 4.4), (2001.34, 3.3), (2001.36, 2.1), (2001.38, 4.2),
    (2001.40, 3.7), (2001.42, 4.9), (2001.44, 2.5), (2001.46, 3.9), (2001.48, 4.6), (2001.50, 3.1),
    (2001.52, 2.3), (2001.54, 4.4), (2001.56, 3.5), (2001.58, 4.8), (2001.60, 2.6), (2001.62, 4.1),
    (2001.64, 3.2), (2001.66, 4.6), (2001.68, 2.2), (2001.70, 3.8), (2001.72, 4.4), (2001.74, 2.9),
    (2001.76, 3.6), (2001.78, 4.8), (2001.80, 2.4), (2001.82, 4.0), (2001.84, 3.3), (2001.86, 2.1),
    (2001.88, 4.5), (2001.90, 3.0), (2001.92, 2.5), (2001.94, 3.8), (2001.96, 2.2), (2001.98, 3.4),
    (2002.00, 4.2), (2002.02, 2.6), (2002.04, 3.5), (2002.06, 2.0), (2002.08, 3.1), (2002.10, 2.4),
    (2002.12, 2.9), (2002.14, 2.2), (2002.16, 3.3), (2002.18, 2.5), (2002.20, 2.0), (2002.22, 3.0),
    (2002.24, 2.4), (2002.26, 3.6), (2002.28, 2.7), (2002.30, 2.1), (2002.32, 3.2), (2002.34, 2.5),
    (2002.36, 2.9), (2002.38, 2.2), (2002.40, 3.4), (2002.42, 2.6), (2002.44, 3.9), (2002.46, 2.3),
    (2002.48, 3.1), (2002.50, 2.0), (2002.66, 2.8), (2002.68, 2.2), (2002.70, 3.2), (2002.72, 2.5),
    (2002.74, 3.6), (2002.76, 2.1), (2002.78, 2.9), (2002.80, 4.0), (2002.82, 2.4), (2002.84, 3.3),
    (2002.86, 2.0), (2002.88, 2.7), (2002.90, 3.5), (2002.92, 2.3), (2002.94, 3.0), (2002.96, 2.6),
    (2002.98, 2.1), (2003.00, 3.2), (2003.02, 2.4), (2003.04, 2.9), (2003.06, 2.1), (2003.08, 3.4),
    (2003.10, 2.6), (2003.12, 2.0), (2003.14, 3.0), (2003.16, 2.3), (2003.18, 2.8), (2003.20, 2.1),
    (2003.22, 3.3), (2003.24, 2.5), (2003.26, 2.0), (2003.28, 3.0), (2003.30, 2.4), (2003.32, 2.9),
    (2003.34, 2.1), (2003.36, 3.4), (2003.38, 2.6), (2003.40, 2.2), (2003.42, 3.1), (2003.44, 2.4),
    (2003.46, 2.0), (2003.48, 2.8), (2003.50, 3.5), (2003.52, 2.3), (2003.54, 3.0), (2003.56, 2.1),
    (2003.58, 3.3), (2003.60, 2.5), (2003.62, 3.8), (2003.64, 2.2), (2003.66, 3.1), (2003.68, 2.6),
    (2003.70, 2.0), (2003.72, 2.9), (2003.74, 2.3), (2003.76, 2.7), (2003.78, 2.0), (2003.80, 2.5),
    (2003.82, 3.0), (2003.84, 2.2), (2003.86, 2.6), (2003.88, 2.0), (2003.90, 2.4), (2003.92, 2.8),
    (2003.95, 2.1), (2003.98, 2.5),
    (2004.74, 3.0), (2004.75, 4.2), (2004.76, 5.0), (2004.77, 3.6), (2004.78, 4.6), (2004.78, 2.8),
    (2004.79, 3.9), (2004.80, 5.5), (2004.80, 3.3), (2004.81, 4.4), (2004.82, 2.6), (2004.72, 6.5),
    (2004.83, 3.8), (2004.84, 4.9), (2004.84, 3.2), (2004.85, 2.4), (2004.86, 4.0),
]

# ---------------- style ----------------
sns.set_style("ticks")
plt.rcParams["font.family"] = ["Liberation Sans", "DejaVu Sans"]

GRAY = "#ababab"
RED = "#ff0000"
BLUE = "#0000ff"


def draw_panel(ax, dots, crosses, lines, title, ylabel, ylim, ymajor, yminor):
    dx, dy = zip(*dots)
    cx, cy = zip(*crosses)
    sns.scatterplot(x=list(dx), y=list(dy), ax=ax, color=GRAY, s=62,
                    linewidth=0, zorder=2, legend=False)
    sns.scatterplot(x=list(cx), y=list(cy), ax=ax, color="black", marker="+",
                    s=75, linewidth=1.5, zorder=3, legend=False)
    for lx, ly, col in lines:
        sns.lineplot(x=lx, y=ly, ax=ax, color=col, linewidth=2.3, sort=False,
                     estimator=None, zorder=4)

    ax.set_xlim(1998, 2005)
    ax.set_ylim(*ylim)
    ax.set_xticks(years)
    ax.xaxis.set_minor_locator(AutoMinorLocator(7))
    ax.yaxis.set_major_locator(MultipleLocator(ymajor))
    ax.yaxis.set_minor_locator(MultipleLocator(yminor))
    ax.tick_params(which="both", direction="in", top=True, right=True,
                   labelsize=14, width=0.8, colors="#333333", labelcolor="black")
    ax.tick_params(which="major", length=5, pad=5)
    ax.tick_params(which="minor", length=2.5)
    for sp in ax.spines.values():
        sp.set_linewidth(0.9)
        sp.set_color("#333333")
    ax.set_title(title, fontsize=18.5, pad=8)
    ax.set_xlabel("Year", fontsize=14, labelpad=6)
    ax.set_ylabel(ylabel, fontsize=14, labelpad=8)


fig = plt.figure(figsize=(6.46, 11.37), dpi=100)
ax1 = fig.add_axes([0.1347, 0.7247, 0.8297, 0.2410])
ax2 = fig.add_axes([0.1347, 0.3958, 0.8297, 0.2392])
ax3 = fig.add_axes([0.1347, 0.0431, 0.8297, 0.2401])

draw_panel(ax1, aer_dot, aer_cross + aer_cross_dense,
           [(aer_blue_x, aer_blue_y, BLUE), (aer_red_x, aer_red_y, RED),
            (aer_blue_tail_x, aer_blue_tail_y, BLUE), (aer_red_tail_x, aer_red_tail_y, RED)],
           "Aerosol Backscatter Coefficient Random Error", "Random Error [%]",
           (-3, 102.3), 20, 4)
draw_panel(ax2, wv_dot + wv_dot_dense, wv_cross,
           [(wv_blue_x, wv_blue_y, BLUE), (wv_red_x, wv_red_y, RED),
            (wv_blue_tail_x, wv_blue_tail_y, BLUE), (wv_red_tail_x, wv_red_tail_y, RED)],
           "Water Vapor Mixing Ratio Random Error", "Random Error [%]",
           (-0.6, 25.3), 5, 1)
draw_panel(ax3, mh_dot + mh_dot_dense, mh_cross,
           [(mh_blue_x, mh_blue_y, BLUE), (mh_red_x, mh_red_y, RED),
            (mh_blue_tail_x, mh_blue_tail_y, BLUE), (mh_red_tail_x, mh_red_tail_y, RED)],
           "Water Vapor Mixing Ratio Maximum Height", "Max Height [km]",
           (-0.3, 15.3), 5, 1)

fig.savefig("out.png", dpi=100)
